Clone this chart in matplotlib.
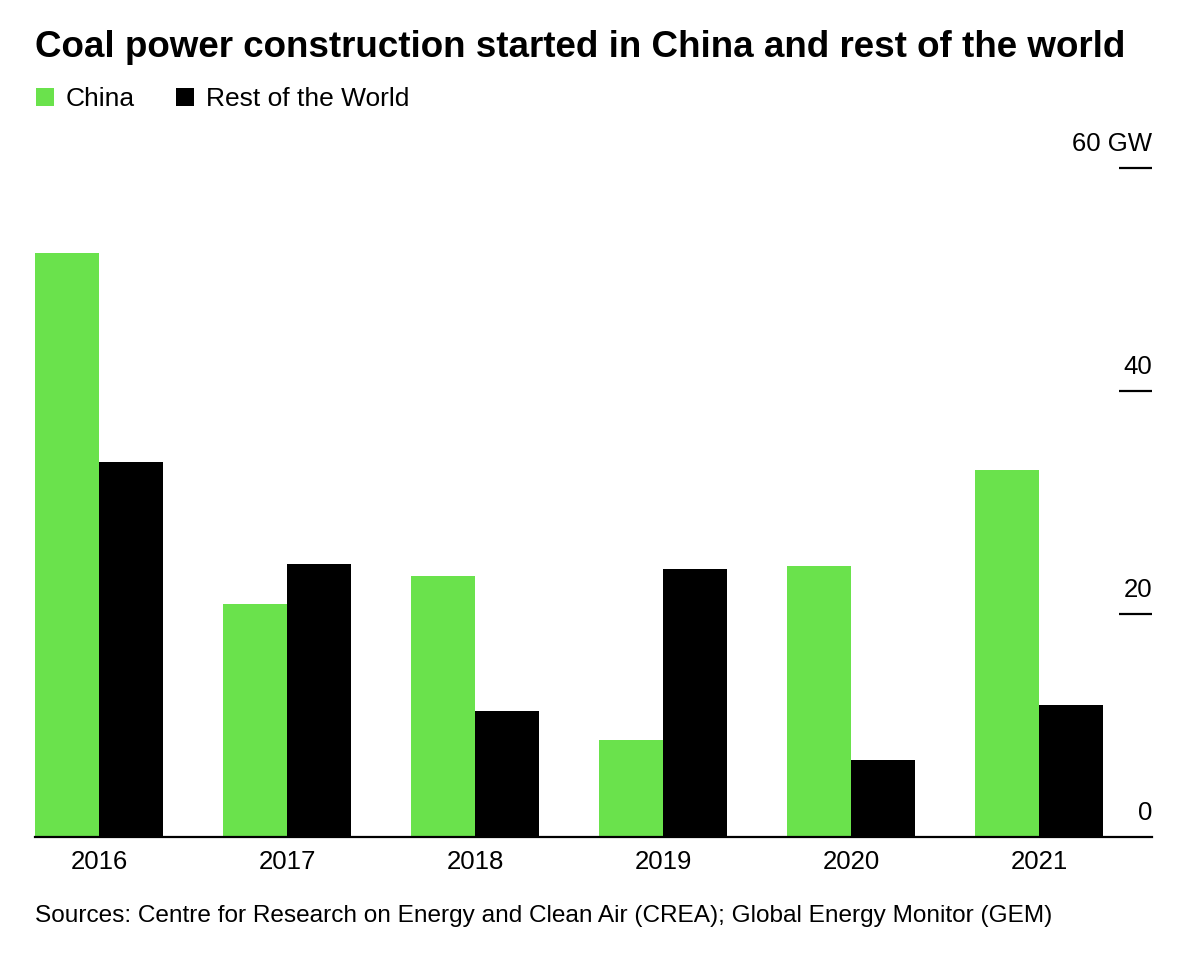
import matplotlib
matplotlib.use("Agg")
import matplotlib.pyplot as plt
import matplotlib.transforms as mtransforms
from matplotlib.patches import Patch
import numpy as np

plt.rcParams['font.family'] = ['Liberation Sans', 'DejaVu Sans']

# === data (GW) ===
years = ['2016', '2017', '2018', '2019', '2020', '2021']
china = [52.4, 20.9, 23.4, 8.7, 24.3, 32.9]
rest_of_world = [33.6, 24.5, 11.3, 24.0, 6.9, 11.8]
y_ticks = [0, 20, 40, 60]
y_tick_labels = ['0', '20', '40', '60 GW']

GREEN = '#6ae24c'

fig = plt.figure(figsize=(12, 9.6), dpi=100)
ax = fig.add_axes([35 / 1200, 1 - 836.5 / 960, (1152 - 35) / 1200, (836.5 - 168) / 960])

x = np.arange(len(years))
w = 0.34
ax.bar(x - w / 2, china, w, color=GREEN, linewidth=0)
ax.bar(x + w / 2, rest_of_world, w, color='black', linewidth=0)

ax.set_xlim(-w, 5.6)
ax.set_ylim(0, 60)

# spines: only the baseline
for s in ['left', 'right', 'top']:
    ax.spines[s].set_visible(False)
ax.spines['bottom'].set_linewidth(1.6)
ax.spines['bottom'].set_color('black')

# x labels
ax.set_xticks(x)
ax.set_xticklabels(years, fontsize=18.5)
ax.tick_params(axis='x', length=0, pad=10)

# y ticks: short dashes on the right, labels sit above them
ax.set_yticks([])
trans = mtransforms.blended_transform_factory(ax.transAxes, ax.transData)
for v, lab in zip(y_ticks, y_tick_labels):
    if v != 0:
        ax.plot([1 - 33 / 1117, 1], [v, v], color='black', lw=1.6,
                transform=trans, clip_on=False, solid_capstyle='butt')
    ax.annotate(lab, xy=(1, v), xycoords=trans, xytext=(0, 12),
                textcoords='offset points', ha='right', va='baseline',
                fontsize=18.5)

# title, legend, source
fig.text(35 / 1200, 1 - 57 / 960,
         'Coal power construction started in China and rest of the world',
         fontsize=26.5, fontweight='bold', ha='left', va='baseline')

handles = [Patch(facecolor=GREEN, edgecolor='none', label='China'),
           Patch(facecolor='black', edgecolor='none', label='Rest of the World')]
fig.legend(handles=handles, loc='center left',
           bbox_to_anchor=(36 / 1200, 1 - 99 / 960), ncol=2, frameon=False,
           fontsize=19, handlelength=0.68, handleheight=0.68,
           handletextpad=0.45, columnspacing=1.55, borderpad=0, borderaxespad=0)

fig.text(35 / 1200, 1 - 922 / 960,
         'Sources: Centre for Research on Energy and Clean Air (CREA); Global Energy Monitor (GEM)',
         fontsize=17.6, ha='left', va='baseline')

fig.savefig('out.png', dpi=100, facecolor='white')
